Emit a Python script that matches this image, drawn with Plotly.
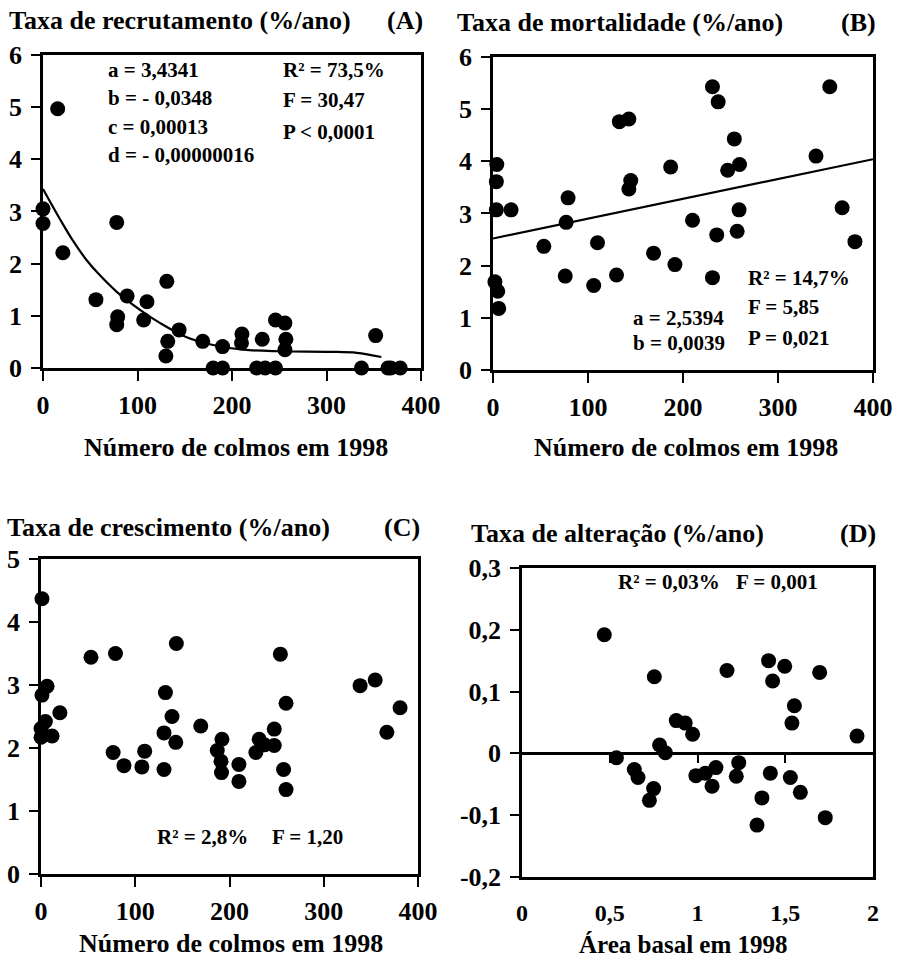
import plotly.graph_objects as go

# ---------------- data ----------------
# Panel A: recruitment rate vs number of culms
a_x = [0, 0, 15.5, 21, 56, 78, 79, 78, 89, 110, 106.5, 131, 132, 130, 144, 169, 190, 190, 180,
       210.5, 210, 232, 246, 256, 257, 256, 246, 235, 226, 337, 352, 365, 378, 368]
a_y = [3.05, 2.77, 4.97, 2.21, 1.31, 2.79, 0.98, 0.83, 1.38, 1.27, 0.92, 1.66, 0.51, 0.23, 0.73, 0.51,
       0.41, 0, 0, 0.65, 0.48, 0.55, 0.92, 0.86, 0.55, 0.35, 0, 0, 0, 0, 0.62, 0, 0, 0]
a_fit_x = [0, 18, 32, 46, 60, 78, 103, 124, 152, 180, 212, 251, 304, 332, 358]
a_fit_y = [3.43, 2.85, 2.43, 2.07, 1.78, 1.46, 1.11, 0.86, 0.59, 0.44, 0.35, 0.32, 0.31, 0.29, 0.21]

# Panel B: mortality rate vs number of culms
b_x = [4, 3.5, 3.5, 19, 2, 5, 6, 53.5, 79, 77, 76, 106, 110, 130, 133, 143, 143, 145, 169, 187,
       191.5, 210, 231, 237, 235.5, 231, 247, 254, 259.5, 259, 257, 340, 354.5, 367.5, 381]
b_y = [3.94, 3.61, 3.07, 3.07, 1.69, 1.51, 1.18, 2.37, 3.30, 2.83, 1.80, 1.62, 2.44, 1.82, 4.76, 4.81,
       3.47, 3.63, 2.24, 3.89, 2.02, 2.87, 5.43, 5.14, 2.59, 1.77, 3.83, 4.43, 3.94, 3.07, 2.66,
       4.10, 5.43, 3.11, 2.46]
b_fit_x = [0, 400]
b_fit_y = [2.52, 4.04]

# Panel C: growth rate vs number of culms
c_x = [1, 1, 6.4, 4.6, 0, 0, 11.7, 20, 53, 79, 76.5, 88, 107, 110, 130.5, 132, 130.5, 139, 143,
       143.6, 169.5, 187, 192, 191, 191.5, 210, 210, 228, 231.5, 237, 247.5, 247.5, 254, 260,
       257.4, 260, 338.6, 354.6, 367, 381]
c_y = [4.37, 2.84, 2.98, 2.42, 2.31, 2.17, 2.19, 2.56, 3.44, 3.50, 1.93, 1.72, 1.70, 1.95, 1.66,
       2.88, 2.24, 2.50, 2.09, 3.66, 2.35, 1.96, 2.14, 1.79, 1.61, 1.74, 1.47, 1.93, 2.14, 2.05,
       2.30, 2.04, 3.49, 2.71, 1.66, 1.34, 2.99, 3.08, 2.25, 2.64]

# Panel D: change rate vs basal area
d_x = [0.469, 0.538, 0.64, 0.661, 0.75, 0.726, 0.754, 0.784, 0.817, 0.879, 0.93, 0.972, 0.991,
       1.045, 1.083, 1.105, 1.168, 1.221, 1.235, 1.367, 1.339, 1.405, 1.428, 1.415, 1.497, 1.529,
       1.552, 1.538, 1.586, 1.696, 1.728, 1.909]
d_y = [0.192, -0.007, -0.026, -0.039, -0.057, -0.076, 0.124, 0.0135, 0.001, 0.053, 0.049, 0.031,
       -0.036, -0.032, -0.053, -0.023, 0.134, -0.037, -0.015, -0.072, -0.116, 0.150, 0.117, -0.032,
       0.141, -0.039, 0.077, 0.049, -0.063, 0.131, -0.104, 0.028]

colmos_ticks = [0, 100, 200, 300, 400]
colmos_labels = ["0", "100", "200", "300", "400"]
d_xticks = [0, 0.5, 1, 1.5, 2]
d_xlabels = ["0", "0,5", "1", "1,5", "2"]
d_yticks = [-0.2, -0.1, 0, 0.1, 0.2, 0.3]
d_ylabels = ["-0,2", "-0,1", "0", "0,1", "0,2", "0,3"]

FONT = "Liberation Serif"
INK = "black"

fig = go.Figure()

mk = dict(color=INK, size=15)


def pts(x, y, xa, ya):
    fig.add_trace(go.Scatter(x=x, y=y, mode="markers", marker=mk, xaxis=xa, yaxis=ya,
                             cliponaxis=False, showlegend=False, hoverinfo="skip"))


def line(x, y, xa, ya, shape="linear"):
    fig.add_trace(go.Scatter(x=x, y=y, mode="lines", line=dict(color=INK, width=2.2, shape=shape),
                             xaxis=xa, yaxis=ya, cliponaxis=False, showlegend=False, hoverinfo="skip"))


line(a_fit_x, a_fit_y, "x", "y", "spline")
pts(a_x, a_y, "x", "y")
line(b_fit_x, b_fit_y, "x2", "y2")
pts(b_x, b_y, "x2", "y2")
pts(c_x, c_y, "x3", "y3")
pts(d_x, d_y, "x4", "y4")

tickfont = dict(family=FONT, size=26, color=INK, weight="bold")
axbase = dict(showline=True, linecolor=INK, linewidth=2.5, mirror=True, showgrid=False,
              zeroline=False, ticks="outside", tickcolor=INK, tickwidth=2, ticklen=9,
              tickfont=tickfont, fixedrange=True, automargin=False)

fig.update_layout(
    template="none",
    width=900, height=961, margin=dict(l=0, r=0, t=0, b=0, pad=0, autoexpand=False),
    paper_bgcolor="white", plot_bgcolor="white",
    font=dict(family=FONT, color=INK),
    showlegend=False,
    xaxis=dict(axbase, domain=[0.0478, 0.4678], range=[0, 400], tickvals=colmos_ticks,
               ticktext=colmos_labels, anchor="y", ticklen=10, ticklabelstandoff=2),
    yaxis=dict(axbase, domain=[0.6171, 0.9428], range=[0, 6], dtick=1, anchor="x",
               ticklabelstandoff=4),
    xaxis2=dict(axbase, domain=[0.5478, 0.97], range=[0, 400], tickvals=colmos_ticks,
                ticktext=colmos_labels, anchor="y2", ticklen=10, ticklabelstandoff=2),
    yaxis2=dict(axbase, domain=[0.615, 0.9407], range=[0, 6], dtick=1, anchor="x2",
                ticklabelstandoff=4),
    xaxis3=dict(axbase, domain=[0.0456, 0.4644], range=[0, 400], tickvals=colmos_ticks,
                ticktext=colmos_labels, anchor="y3", ticklen=10, ticklabelstandoff=2),
    yaxis3=dict(axbase, domain=[0.0905, 0.4183], range=[0, 5], dtick=1, anchor="x3",
                ticklabelstandoff=4),
    xaxis4=dict(axbase, domain=[0.58, 0.97], range=[0, 2], tickvals=d_xticks,
                ticktext=d_xlabels, anchor="y4", ticks="", ticklabelstandoff=12,
                tickfont=dict(family=FONT, size=24, color=INK, weight="bold")),
    yaxis4=dict(axbase, domain=[0.0874, 0.409], range=[-0.2, 0.3], tickvals=d_yticks,
                ticktext=d_ylabels, anchor="x4", ticklabelstandoff=4),
    # zero line of panel D with its small ticks
    xaxis5=dict(showline=True, linecolor=INK, linewidth=2.5, showgrid=False, zeroline=False,
                ticks="outside", tickcolor=INK, tickwidth=2, ticklen=8, showticklabels=False,
                overlaying="x4", anchor="free", position=0.216, range=[0, 2],
                tickvals=[0.5, 1, 1.5], fixedrange=True, automargin=False),
)

# invisible trace to activate xaxis5
fig.add_trace(go.Scatter(x=[0], y=[0], mode="markers", marker=dict(opacity=0), xaxis="x5",
                         yaxis="y4", showlegend=False, hoverinfo="skip"))


def txt(x, y, s, size=26, xanchor="left"):
    fig.add_annotation(x=x / 900, y=1 - y / 961, xref="paper", yref="paper", text=s,
                       showarrow=False, xanchor=xanchor, yanchor="middle", borderpad=0,
                       font=dict(family=FONT, size=size, color=INK))


B = lambda s: "<b>" + s + "</b>"

# panel titles
txt(8, 20, B("Taxa de recrutamento (%/ano)"))
txt(405, 20, B("(A)"), xanchor="center")
txt(456, 22, B("Taxa de mortalidade (%/ano)"))
txt(858, 22, B("(B)"), xanchor="center")
txt(6, 527, B("Taxa de crescimento (%/ano)"))
txt(402, 527, B("(C)"), xanchor="center")
txt(470, 533, B("Taxa de alteração (%/ano)"))
txt(858, 533, B("(D)"), xanchor="center")

# axis titles
txt(236, 447, B("Número de colmos em 1998"), xanchor="center")
txt(686, 447, B("Número de colmos em 1998"), xanchor="center")
txt(231, 943, B("Número de colmos em 1998"), xanchor="center")
txt(683, 944, B("Área basal em 1998"), size=25, xanchor="center")

# statistics
S = 21
txt(107, 70, B("a = 3,4341"), S)
txt(107, 98, B("b = - 0,0348"), S)
txt(107, 127, B("c = 0,00013"), S)
txt(107, 155, B("d = - 0,00000016"), S)
txt(282, 70, B("R² = 73,5%"), S)
txt(282, 100, B("F = 30,47"), S)
txt(282, 132, B("P < 0,0001"), S)

txt(632, 318, B("a = 2,5394"), S)
txt(632, 343, B("b = 0,0039"), S)
txt(747, 278, B("R² = 14,7%"), S)
txt(747, 307, B("F = 5,85"), S)
txt(747, 338, B("P = 0,021"), S)

txt(156, 837, B("R² = 2,8%"), S)
txt(271, 837, B("F = 1,20"), S)

txt(617, 582, B("R² = 0,03%"), S)
txt(735, 582, B("F = 0,001"), S)

fig.write_html("out.html")
